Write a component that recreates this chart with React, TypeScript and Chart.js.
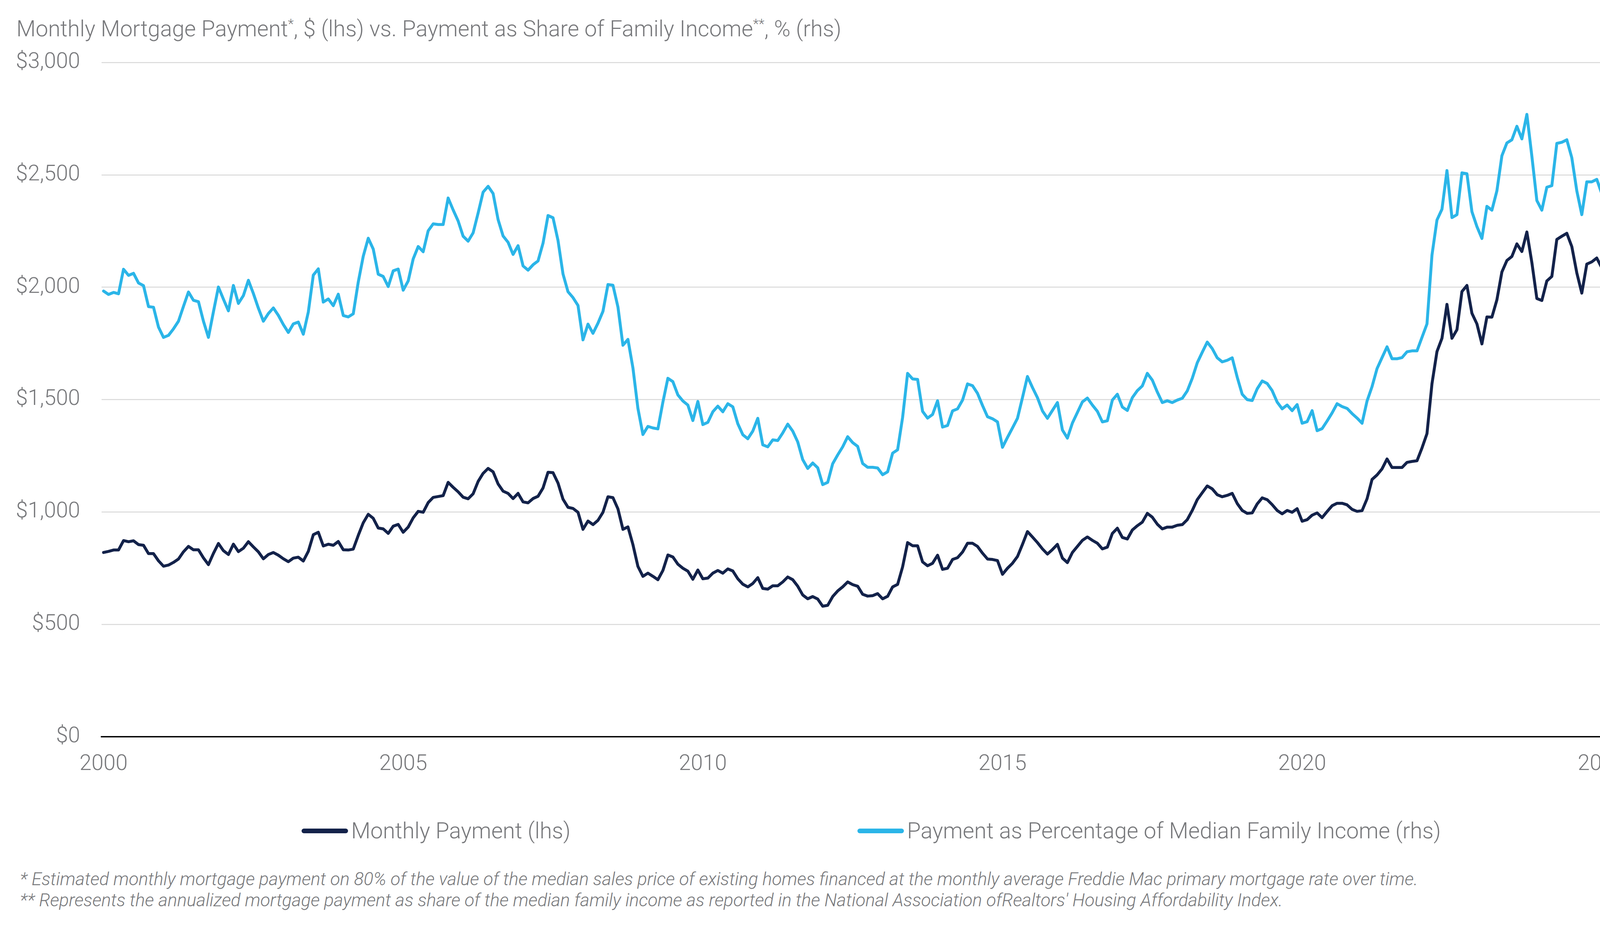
import React, { useEffect, useRef } from "react";
import { Chart, registerables } from "chart.js";

Chart.register(...registerables);

// ---------- data (monthly, Jan 2000 – Apr 2025) ----------
const startYear = 2000;

const paymentUSD: number[] = [
  // 2000
  820, 825, 831, 831, 873, 868, 872, 855, 852, 815, 815, 783,
  // 2001
  759, 764, 776, 791, 823, 847, 832, 832, 796, 766, 816, 860,
  // 2002
  828, 811, 857, 824, 839, 868, 845, 823, 792, 811, 820, 808,
  // 2003
  792, 779, 795, 799, 782, 825, 899, 910, 849, 857, 852, 869,
  // 2004
  832, 831, 835, 896, 952, 990, 972, 929, 925, 905, 937, 945,
  // 2005
  910, 933, 974, 1003, 999, 1042, 1065, 1069, 1073, 1132, 1110, 1090,
  // 2006
  1066, 1059, 1081, 1136, 1172, 1194, 1179, 1125, 1093, 1083, 1060, 1083,
  // 2007
  1045, 1041, 1060, 1070, 1107, 1177, 1175, 1129, 1057, 1021, 1016, 999,
  // 2008
  923, 960, 944, 963, 999, 1068, 1064, 1014, 923, 934, 855, 758,
  // 2009
  714, 728, 714, 699, 740, 809, 800, 768, 750, 737, 701, 742,
  // 2010
  703, 706, 728, 740, 728, 747, 738, 703, 679, 667, 682, 708,
  // 2011
  660, 657, 672, 672, 689, 711, 699, 670, 631, 614, 624, 613,
  // 2012
  581, 585, 624, 649, 667, 689, 677, 670, 634, 626, 628, 637,
  // 2013
  614, 625, 667, 678, 756, 864, 850, 850, 778, 761, 772, 808,
  // 2014
  745, 750, 789, 797, 822, 861, 861, 847, 817, 791, 789, 784,
  // 2015
  723, 750, 772, 802, 856, 913, 889, 864, 836, 813, 833, 856,
  // 2016
  795, 775, 820, 847, 874, 889, 874, 861, 836, 844, 905, 928,
  // 2017
  887, 880, 920, 939, 955, 994, 977, 946, 925, 933, 933, 941,
  // 2018
  944, 966, 1007, 1055, 1086, 1116, 1103, 1077, 1068, 1074, 1083, 1038,
  // 2019
  1007, 994, 996, 1036, 1063, 1055, 1033, 1007, 992, 1007, 999, 1015,
  // 2020
  959, 966, 986, 996, 975, 1002, 1028, 1039, 1039, 1032, 1012, 1003,
  // 2021
  1006, 1059, 1145, 1165, 1192, 1236, 1198, 1198, 1198, 1221, 1225, 1228,
  // 2022
  1285, 1349, 1571, 1714, 1773, 1924, 1773, 1811, 1981, 2008, 1884, 1837,
  // 2023
  1748, 1868, 1867, 1944, 2068, 2119, 2137, 2193, 2159, 2246, 2110, 1950,
  // 2024
  1941, 2028, 2048, 2213, 2227, 2240, 2181, 2064, 1974, 2103, 2113, 2130,
  // 2025
  2086, 2061, 2067, 2154,
];

const shareOfIncomePct: number[] = [
  // 2000
  19.83, 19.68, 19.77, 19.71, 20.8, 20.53, 20.62, 20.19, 20.07, 19.14, 19.11, 18.23,
  // 2001
  17.77, 17.86, 18.15, 18.49, 19.15, 19.79, 19.42, 19.36, 18.49, 17.77, 18.91, 20.01,
  // 2002
  19.47, 18.95, 20.08, 19.28, 19.63, 20.31, 19.72, 19.07, 18.49, 18.83, 19.08, 18.75,
  // 2003
  18.34, 17.99, 18.37, 18.45, 17.91, 18.9, 20.54, 20.82, 19.34, 19.48, 19.18, 19.69,
  // 2004
  18.74, 18.68, 18.82, 20.23, 21.38, 22.18, 21.7, 20.58, 20.48, 20.03, 20.73, 20.81,
  // 2005
  19.87, 20.28, 21.26, 21.81, 21.58, 22.51, 22.82, 22.79, 22.79, 23.97, 23.44, 22.95,
  // 2006
  22.27, 22.05, 22.42, 23.3, 24.23, 24.49, 24.17, 23.01, 22.28, 22.0, 21.46, 21.85,
  // 2007
  20.95, 20.76, 21.0, 21.17, 21.96, 23.19, 23.09, 22.08, 20.59, 19.8, 19.54, 19.19,
  // 2008
  17.66, 18.36, 17.95, 18.4, 18.93, 20.12, 20.09, 19.12, 17.42, 17.68, 16.41, 14.61,
  // 2009
  13.45, 13.81, 13.74, 13.7, 14.89, 15.95, 15.8, 15.21, 14.94, 14.76, 14.07, 14.92,
  // 2010
  13.89, 13.99, 14.46, 14.71, 14.46, 14.82, 14.68, 13.93, 13.44, 13.26, 13.6, 14.17,
  // 2011
  12.99, 12.9, 13.21, 13.18, 13.52, 13.91, 13.6, 13.12, 12.33, 11.94, 12.18, 11.97,
  // 2012
  11.22, 11.32, 12.15, 12.54, 12.9, 13.35, 13.09, 12.92, 12.16, 11.99, 11.99, 11.96,
  // 2013
  11.66, 11.79, 12.62, 12.77, 14.21, 16.17, 15.92, 15.9, 14.48, 14.18, 14.34, 14.95,
  // 2014
  13.78, 13.85, 14.5, 14.59, 14.98, 15.7, 15.62, 15.28, 14.74, 14.24, 14.15, 14.01,
  // 2015
  12.88, 13.32, 13.74, 14.17, 15.09, 16.03, 15.54, 15.09, 14.5, 14.17, 14.52, 14.87,
  // 2016
  13.65, 13.29, 13.96, 14.43, 14.9, 15.07, 14.76, 14.48, 14.01, 14.06, 14.98, 15.24,
  // 2017
  14.67, 14.52, 15.09, 15.4, 15.61, 16.17, 15.87, 15.34, 14.87, 14.95, 14.87, 14.98,
  // 2018
  15.06, 15.39, 15.95, 16.64, 17.11, 17.56, 17.27, 16.86, 16.68, 16.75, 16.86, 16.0,
  // 2019
  15.24, 15.0, 14.96, 15.48, 15.83, 15.72, 15.4, 14.89, 14.59, 14.76, 14.51, 14.78,
  // 2020
  13.95, 14.02, 14.51, 13.62, 13.71, 14.05, 14.41, 14.82, 14.69, 14.61, 14.38, 14.18,
  // 2021
  13.95, 14.94, 15.58, 16.38, 16.87, 17.35, 16.82, 16.82, 16.87, 17.13, 17.17, 17.17,
  // 2022
  17.77, 18.37, 21.43, 22.99, 23.47, 25.19, 23.1, 23.23, 25.09, 25.05, 23.36, 22.7,
  // 2023
  22.17, 23.6, 23.43, 24.29, 25.85, 26.42, 26.56, 27.16, 26.6, 27.69, 25.83, 23.86,
  // 2024
  23.43, 24.45, 24.52, 26.4, 26.45, 26.56, 25.76, 24.29, 23.23, 24.69, 24.69, 24.8,
  // 2025
  24.16, 23.7, 23.7, 24.69,
];

const xTickYears: number[] = [2000, 2005, 2010, 2015, 2020, 2025];
const seriesNames: string[] = [
  "Monthly Payment (lhs)",
  "Payment as Percentage of Median Family Income (rhs)",
];
const footnotes: string[] = [
  "* Estimated monthly mortgage payment on 80% of the value of the median sales price of existing homes financed at the monthly average Freddie Mac primary mortgage rate over time.",
  "** Represents the annualized mortgage payment as share of the median family income as reported in the National Association ofRealtors' Housing Affordability Index.",
];

// ---------- styles ----------
const W = 4434;
const H = 2392;
const CANVAS_H = 2010;
const DARK = "#13224a";
const LIGHT = "#2bb5e8";
const TEXT = "#77787b";
const GRID = "#d9d9d9";
const FONT = "Roboto, 'Noto Sans', sans-serif";

export default function App() {
  const ref = useRef<HTMLCanvasElement | null>(null);

  useEffect(() => {
    const canvas = ref.current;
    if (!canvas) return;
    const tickFont = { family: FONT, size: 55.5, weight: "300" as any };
    const chart = new Chart(canvas, {
      type: "line",
      data: {
        datasets: [
          {
            label: seriesNames[0],
            data: paymentUSD.map((v, i) => ({ x: i, y: v })),
            borderColor: DARK,
            backgroundColor: DARK,
            borderWidth: 7.5,
            pointRadius: 0,
            tension: 0,
            yAxisID: "y",
            borderJoinStyle: "round",
            borderCapStyle: "round",
          },
          {
            label: seriesNames[1],
            data: shareOfIncomePct.map((v, i) => ({ x: i, y: v })),
            borderColor: LIGHT,
            backgroundColor: LIGHT,
            borderWidth: 7.5,
            pointRadius: 0,
            tension: 0,
            yAxisID: "y1",
            borderJoinStyle: "round",
            borderCapStyle: "round",
          },
        ],
      },
      options: {
        animation: false,
        responsive: false,
        devicePixelRatio: 1,
        layout: { padding: { top: 160, left: 0, right: 0, bottom: 0 } },
        plugins: {
          legend: { display: false },
          title: { display: false },
          tooltip: { enabled: false },
        },
        scales: {
          x: {
            type: "linear",
            min: -0.4,
            max: 309.5,
            afterBuildTicks: (scale: any) => {
              scale.ticks = xTickYears.map((y) => ({ value: (y - startYear) * 12 }));
            },
            afterFit: (scale: any) => {
              scale.height = CANVAS_H - 1887;
            },
            grid: { display: false, drawTicks: false },
            border: { display: true, color: "#000000", width: 3.5 },
            ticks: {
              autoSkip: false,
              maxRotation: 0,
              padding: 38,
              color: TEXT,
              font: tickFont,
              callback: (v: any) => String(startYear + Math.round(Number(v) / 12)),
            },
          },
          y: {
            position: "left",
            min: 0,
            max: 3000,
            afterFit: (scale: any) => {
              scale.width = 260;
            },
            grid: {
              drawTicks: false,
              lineWidth: 2.5,
              color: (ctx: any) =>
                ctx.tick && ctx.tick.value === 0 ? "rgba(0,0,0,0)" : GRID,
            },
            border: { display: false },
            ticks: {
              stepSize: 500,
              padding: 55,
              color: TEXT,
              font: tickFont,
              callback: (v: any) => "$" + Number(v).toLocaleString("en-US"),
            },
          },
          y1: {
            position: "right",
            min: 0,
            max: 30,
            afterFit: (scale: any) => {
              scale.width = W - 4222;
            },
            grid: { display: false, drawTicks: false },
            border: { display: false },
            ticks: {
              stepSize: 5,
              padding: 54,
              color: TEXT,
              font: tickFont,
              callback: (v: any) => `${v}%`,
            },
          },
        },
      },
    } as any);
    return () => chart.destroy();
  }, []);

  const swatch = (color: string) => ({
    width: 119,
    height: 12,
    borderRadius: 6,
    background: color,
    marginRight: 8,
    flex: "none" as const,
  });

  const legendItem = (left: number) => ({
    position: "absolute" as const,
    left,
    top: 2099,
    height: 57,
    display: "flex",
    alignItems: "center",
    fontSize: 57,
    lineHeight: "57px",
    whiteSpace: "nowrap" as const,
  });

  return (
    <div
      style={{
        position: "absolute",
        left: 0,
        top: 0,
        width: W,
        height: H,
        background: "#ffffff",
        overflow: "hidden",
        fontFamily: FONT,
        fontWeight: 300,
        color: TEXT,
      }}
    >
      <div
        style={{
          position: "absolute",
          left: 42,
          top: 45,
          fontSize: 57,
          lineHeight: "57px",
          whiteSpace: "nowrap",
        }}
      >
        Monthly Mortgage Payment
        <sup style={{ fontSize: "0.6em", lineHeight: 0 }}>*</sup>, $ (lhs) vs. Payment as
        Share of Family Income
        <sup style={{ fontSize: "0.6em", lineHeight: 0 }}>**</sup>, % (rhs)
      </div>

      <canvas
        ref={ref}
        width={W}
        height={CANVAS_H}
        style={{ position: "absolute", left: 0, top: 0, width: W, height: CANVAS_H }}
      />

      <div style={legendItem(772)}>
        <div style={swatch(DARK)} />
        <span>{seriesNames[0]}</span>
      </div>
      <div style={legendItem(2195)}>
        <div style={swatch(LIGHT)} />
        <span>{seriesNames[1]}</span>
      </div>

      <div
        style={{
          position: "absolute",
          left: 51,
          top: 2224,
          fontSize: 46,
          lineHeight: "54px",
          fontStyle: "italic",
          whiteSpace: "nowrap",
        }}
      >
        {footnotes.map((t, i) => (
          <div key={i}>{t}</div>
        ))}
      </div>
    </div>
  );
}
